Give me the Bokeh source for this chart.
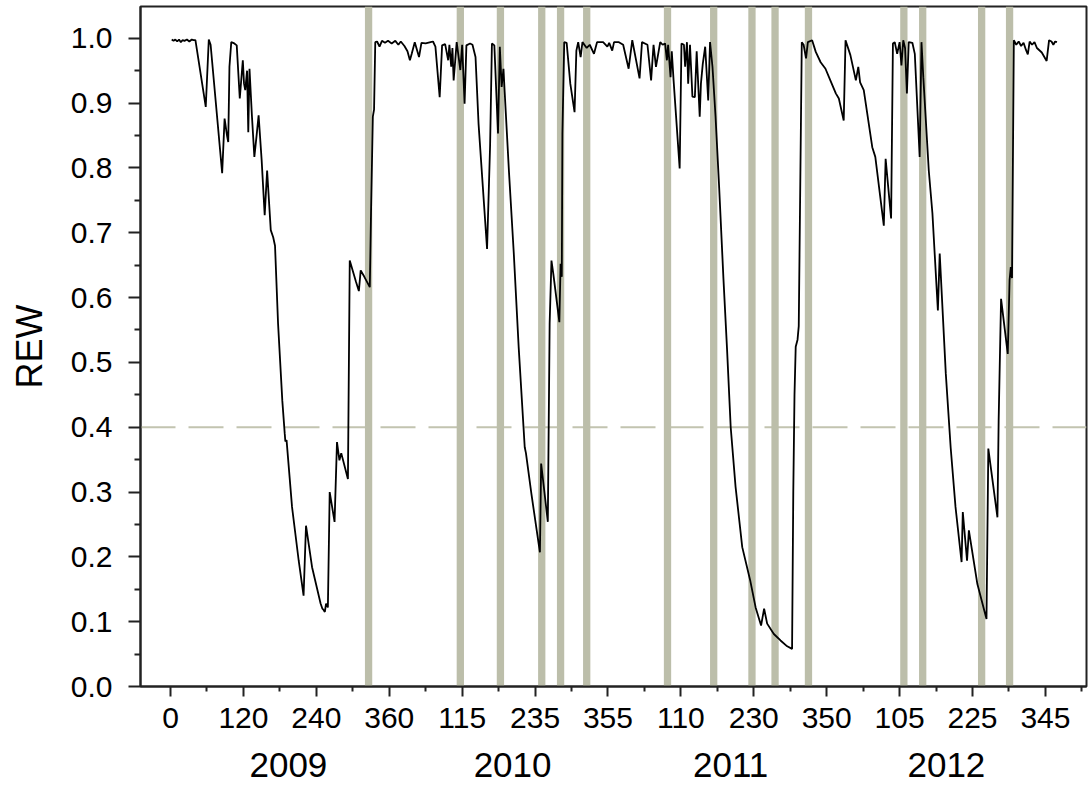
from bokeh.plotting import figure
from bokeh.models import FixedTicker, LinearAxis, Span, Range1d
from bokeh.embed import file_html
from bokeh.resources import INLINE

# ---- data (cumulative day since 1 Jan 2009, REW) ----
days = [2, 5, 8, 11, 14, 17, 20, 23, 27, 31, 35, 38, 41,
        58, 63, 66, 85, 89, 93, 95, 97, 100, 105, 109, 114, 119, 121, 123, 126, 128, 130, 134, 138, 142, 145,
        150, 155, 159, 165, 169, 172, 177, 184, 188, 189, 191, 200, 211, 219, 223, 233, 247, 250, 252, 254,
        256, 259, 262, 270, 274, 278, 281, 292, 295, 305, 310, 313, 319, 328, 330, 333, 335, 337,
        340, 344, 348, 353, 358, 364, 370, 375, 379, 385, 390, 394, 397, 402, 409, 413, 420, 428, 432, 436,
        443, 447, 452, 457, 459, 462, 464, 466, 471, 477, 480, 484, 487, 493, 497, 502, 507, 521, 526, 529,
        533, 539, 542, 545, 548, 550, 557, 565, 573, 583, 585, 594, 608, 610, 621, 624, 627, 630, 640, 642,
        644, 645, 648, 652, 658, 665, 668, 671, 675, 678, 685, 690, 697, 702, 712, 719, 722, 727, 730, 738,
        745, 754, 760, 772, 776, 785, 791, 795, 799, 806, 810, 814, 817, 819, 823, 825, 828, 838, 841, 845,
        847, 850, 852, 855, 859, 863, 866, 871, 873, 876, 880, 885, 888, 892, 897, 903, 910, 916, 922, 930,
        941, 954, 963, 972, 977, 982, 993, 1004, 1015, 1023, 1025, 1027, 1029, 1032, 1034, 1036, 1039, 1042,
        1046, 1049, 1056, 1062, 1070, 1078, 1086, 1095, 1100, 1108, 1111, 1119, 1128, 1132, 1135, 1141, 1155,
        1160, 1174, 1177, 1186, 1189, 1192, 1196, 1200, 1203, 1206, 1209, 1212, 1215, 1221, 1225, 1233, 1236,
        1239, 1248, 1254, 1263, 1266, 1276, 1284, 1292, 1302, 1304, 1311, 1314, 1328, 1343, 1346, 1361, 1363,
        1367, 1378, 1381, 1383, 1385, 1388, 1392, 1396, 1400, 1404, 1408, 1411, 1414, 1418, 1422, 1426, 1434,
        1442, 1446, 1450, 1453, 1456, 1459]
rew = [0.998, 0.996, 0.998, 0.995, 0.998, 0.994, 0.997, 0.996, 0.998, 0.995, 0.998, 0.997, 0.997,
       0.894, 0.998, 0.990, 0.792, 0.876, 0.850, 0.840, 0.956, 0.994, 0.992, 0.989, 0.907, 0.966, 0.930, 0.920, 0.950, 0.855, 0.953, 0.880, 0.817, 0.853, 0.881,
       0.812, 0.727, 0.796, 0.704, 0.693, 0.680, 0.560, 0.441, 0.390, 0.378, 0.380, 0.277, 0.194, 0.140, 0.248, 0.184, 0.128, 0.120, 0.118, 0.115,
       0.128, 0.122, 0.300, 0.254, 0.377, 0.349, 0.360, 0.320, 0.657, 0.625, 0.610, 0.642, 0.632, 0.616, 0.730, 0.879, 0.890, 0.994,
       0.995, 0.987, 0.996, 0.993, 0.996, 0.992, 0.996, 0.990, 0.995, 0.988, 0.980, 0.966, 0.976, 0.994, 0.971, 0.993, 0.992, 0.994, 0.995, 0.987,
       0.909, 0.989, 0.991, 0.966, 0.990, 0.956, 0.985, 0.935, 0.994, 0.951, 0.990, 0.899, 0.989, 0.992, 0.990, 0.971, 0.868, 0.675, 0.835, 0.992,
       0.989, 0.853, 0.987, 0.925, 0.953, 0.917, 0.795, 0.668, 0.524, 0.369, 0.360, 0.297, 0.207, 0.344, 0.254, 0.560, 0.657, 0.637, 0.562, 0.652,
       0.632, 0.853, 0.994, 0.993, 0.930, 0.886, 0.981, 0.994, 0.971, 0.994, 0.985, 0.990, 0.976, 0.994, 0.994, 0.987, 0.993, 0.981, 0.994, 0.994,
       0.990, 0.953, 0.997, 0.938, 0.994, 0.990, 0.935, 0.990, 0.956, 0.994, 0.990, 0.992, 0.966, 0.990, 0.940, 0.980, 0.935, 0.799, 0.992, 0.990,
       0.956, 0.994, 0.930, 0.990, 0.910, 0.909, 0.980, 0.879, 0.930, 0.960, 0.987, 0.904, 0.994, 0.956, 0.880, 0.770, 0.630, 0.520, 0.400, 0.308,
       0.215, 0.164, 0.122, 0.094, 0.120, 0.097, 0.081, 0.071, 0.062, 0.058, 0.300, 0.450, 0.524, 0.535, 0.556, 0.730, 0.994, 0.990,
       0.969, 0.994, 0.997, 0.979, 0.963, 0.953, 0.935, 0.915, 0.907, 0.873, 0.997, 0.974, 0.935, 0.956, 0.932, 0.920, 0.832,
       0.817, 0.711, 0.814, 0.722, 0.992, 0.994, 0.976, 0.994, 0.958, 0.997, 0.985, 0.915, 0.994, 0.993, 0.976, 0.817, 0.994,
       0.940, 0.796, 0.730, 0.580, 0.668, 0.483, 0.369, 0.277, 0.192, 0.269, 0.194, 0.241, 0.158, 0.104, 0.367, 0.261, 0.410,
       0.598, 0.513, 0.627, 0.647, 0.630, 0.997, 0.990, 0.995, 0.988, 0.993, 0.982, 0.975, 0.995, 0.990, 0.994, 0.985, 0.978,
       0.965, 0.997, 0.995, 0.990, 0.995, 0.994]

# event days (grey vertical bands)
event_days = [326, 477, 543, 611, 642, 685, 818, 894, 957, 995, 1050, 1207, 1238, 1335, 1381]

# tick positions (cumulative day) and their day-of-year labels
x_ticks = [0, 120, 240, 360, 480, 600, 720, 840, 960, 1080, 1200, 1320, 1440]
x_tick_labels = ["0", "120", "240", "360", "115", "235", "355", "110", "230", "350", "105", "225", "345"]
years = ["2009", "2010", "2011", "2012"]
year_centers = [194, 563, 922, 1277]
threshold = 0.4

FONT = "Liberation Sans"

p = figure(frame_width=946, frame_height=680,
           min_border_left=140, min_border_right=2, min_border_top=6, min_border_bottom=100,
           x_range=Range1d(-49.4, 1507.6), y_range=Range1d(0, 1.049),
           output_backend="svg", toolbar_location=None)
p.xgrid.visible = False
p.ygrid.visible = False
p.outline_line_color = "#222222"
p.outline_line_width = 2
p.background_fill_color = "white"
p.border_fill_color = "white"

# threshold line
p.add_layout(Span(location=threshold, dimension="width", line_color="#c2c4b0",
                  line_width=2, line_dash="35 13", level="underlay"))

# event bands
p.vbar(x=event_days, width=12, bottom=0, top=1.2, fill_color="#bcbeaa",
       line_color=None)

# REW curve
p.line(days, rew, line_color="black", line_width=1.8)

# y axis
ya = p.yaxis[0]
ya.ticker = FixedTicker(ticks=[i / 10 for i in range(11)],
                        minor_ticks=[0.05 + i / 10 for i in range(10)])
ya.major_label_overrides = {i / 10: f"{i / 10:.1f}" for i in range(11)}
ya.axis_label = "REW"
ya.axis_label_text_font = FONT
ya.axis_label_text_font_size = "36px"
ya.axis_label_text_font_style = "normal"
ya.axis_label_text_color = "black"
ya.axis_label_standoff = 18
ya.major_label_text_font = FONT
ya.major_label_text_font_size = "30px"
ya.major_label_standoff = 16
ya.major_tick_out = 12
ya.major_tick_in = 0
ya.minor_tick_out = 6
ya.minor_tick_in = 0
ya.axis_line_width = 2
ya.axis_line_color = "#222222"
ya.major_tick_line_width = 2
ya.minor_tick_line_width = 2
ya.major_tick_line_color = "#222222"
ya.minor_tick_line_color = "#222222"
ya.major_label_text_color = "black"

# x axis (day of year)
xa = p.xaxis[0]
xa.ticker = FixedTicker(ticks=x_ticks, minor_ticks=[t + 60 for t in x_ticks])
xa.major_label_overrides = dict(zip(x_ticks, x_tick_labels))
xa.major_label_text_font = FONT
xa.major_label_text_font_size = "30px"
xa.major_label_standoff = 11
xa.major_tick_out = 10
xa.major_tick_in = 0
xa.minor_tick_out = 5
xa.minor_tick_in = 0
xa.axis_line_width = 2
xa.axis_line_color = "#222222"
xa.major_tick_line_width = 2
xa.minor_tick_line_width = 2
xa.major_tick_line_color = "#222222"
xa.minor_tick_line_color = "#222222"
xa.major_label_text_color = "black"

# year labels axis
ya2 = LinearAxis(ticker=FixedTicker(ticks=year_centers, minor_ticks=[]),
                 major_label_overrides=dict(zip(year_centers, years)))
ya2.axis_line_color = None
ya2.major_tick_line_color = None
ya2.minor_tick_line_color = None
ya2.major_tick_out = 0
ya2.major_label_text_font = FONT
ya2.major_label_text_font_size = "35px"
ya2.major_label_standoff = 22
ya2.major_label_text_color = "black"
p.add_layout(ya2, "below")

open("out.html", "w").write(file_html(p, INLINE))
